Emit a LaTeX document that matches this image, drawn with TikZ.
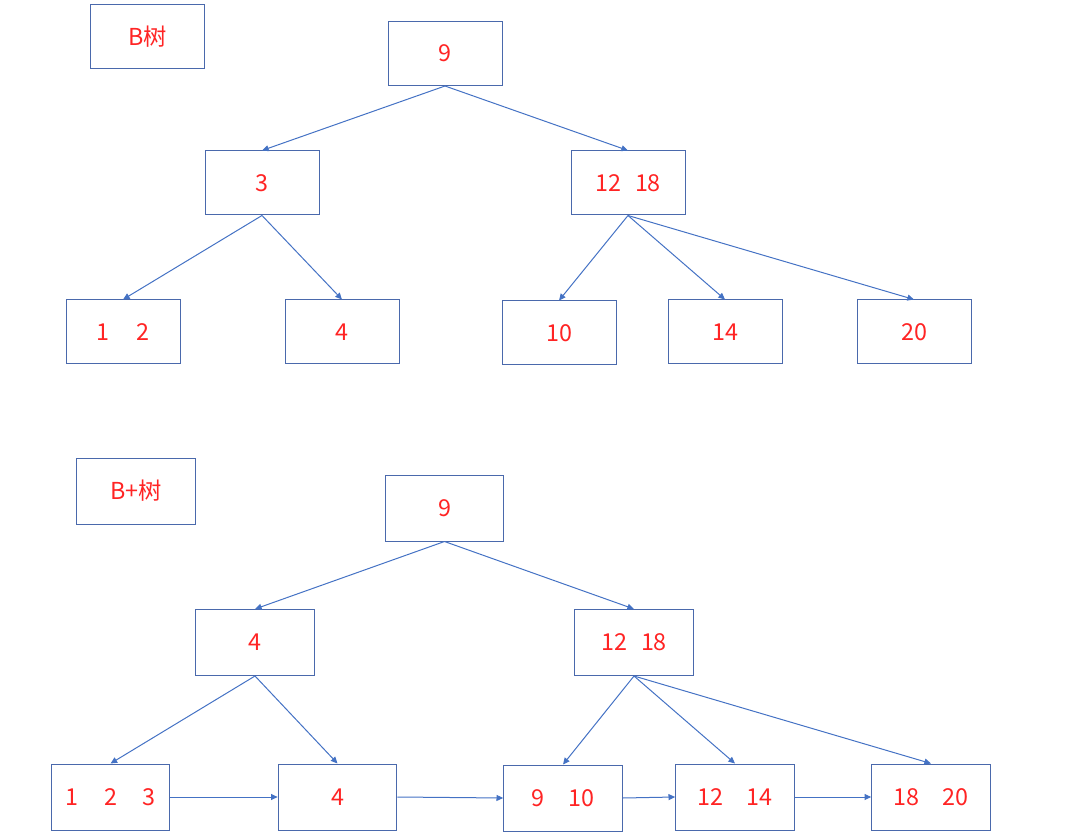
\documentclass[tikz,border=0pt]{standalone}
\usepackage{fontspec}
\setmainfont{Noto Sans CJK SC}
\usepackage{tikz}
\usetikzlibrary{arrows.meta,positioning}
\definecolor{boxblue}{HTML}{4A69AC}
\definecolor{linkblue}{HTML}{4472C4}
\definecolor{keyred}{HTML}{FF2424}

\begin{document}
\begin{tikzpicture}[x=0.75pt,y=-0.75pt,font=\fontsize{17.5}{20}\selectfont,
  bnode/.style={draw=boxblue,line width=0.75pt,text=keyred,minimum width=85.5pt,minimum height=48pt,inner sep=0pt},
  pnode/.style={bnode,minimum width=89pt,minimum height=49.5pt},
  link/.style={draw=linkblue,line width=0.75pt,-{Triangle[length=5pt,width=4.5pt]}}]
\useasboundingbox (0,0) rectangle (1084,837);

% B tree
\node[bnode] (btitle) at (147.5,37) {B树};
\node[bnode] (broot) at (445,53.5) {9};
\node[bnode] (bthree) at (262,183) {3};
\node[bnode] (btwelve) at (628,183) {12\hspace{0.6em}18};
\node[bnode] (bone) at (123,332) {1\hspace{1.15em}2};
\node[bnode] (bfour) at (342,332) {4};
\node[bnode] (bten) at (559,333) {10};
\node[bnode] (bfourteen) at (725,332) {14};
\node[bnode] (btwenty) at (914,332) {20};

\draw[link] (broot.south) -- (bthree.north);
\draw[link] (broot.south) -- (btwelve.north);
\draw[link] (bthree.south) -- (bone.north);
\draw[link] (bthree.south) -- (bfour.north);
\draw[link] (btwelve.south) -- (bten.north);
\draw[link] (btwelve.south) -- (bfourteen.north);
\draw[link] (btwelve.south) -- (btwenty.north);

% B+ tree
\node[pnode] (ptitle) at (136,491) {B+树};
\node[pnode] (proot) at (444.5,508) {9};
\node[pnode] (pfour) at (255,642.5) {4};
\node[pnode] (ptwelve) at (634,642.5) {12\hspace{0.6em}18};
\node[pnode] (pone) at (110.5,797) {1\hspace{1.1em}2\hspace{1.1em}3};
\node[pnode] (pleaffour) at (337.5,797) {4};
\node[pnode] (pnine) at (563,798) {9\hspace{1em}10};
\node[pnode] (pleaftwelve) at (735,797) {12\hspace{1em}14};
\node[pnode] (peighteen) at (931,797) {18\hspace{1em}20};

\draw[link] (proot.south) -- (pfour.north);
\draw[link] (proot.south) -- (ptwelve.north);
\draw[link] (pfour.south) -- (pone.north);
\draw[link] (pfour.south) -- (pleaffour.north);
\draw[link] (ptwelve.south) -- (pnine.north);
\draw[link] (ptwelve.south) -- (pleaftwelve.north);
\draw[link] (ptwelve.south) -- (peighteen.north);

% leaf chain
\draw[link] (pone.east) -- (pleaffour.west);
\draw[link] (pleaffour.east) -- (pnine.west);
\draw[link] (pnine.east) -- (pleaftwelve.west);
\draw[link] (pleaftwelve.east) -- (peighteen.west);
\end{tikzpicture}
\end{document}
